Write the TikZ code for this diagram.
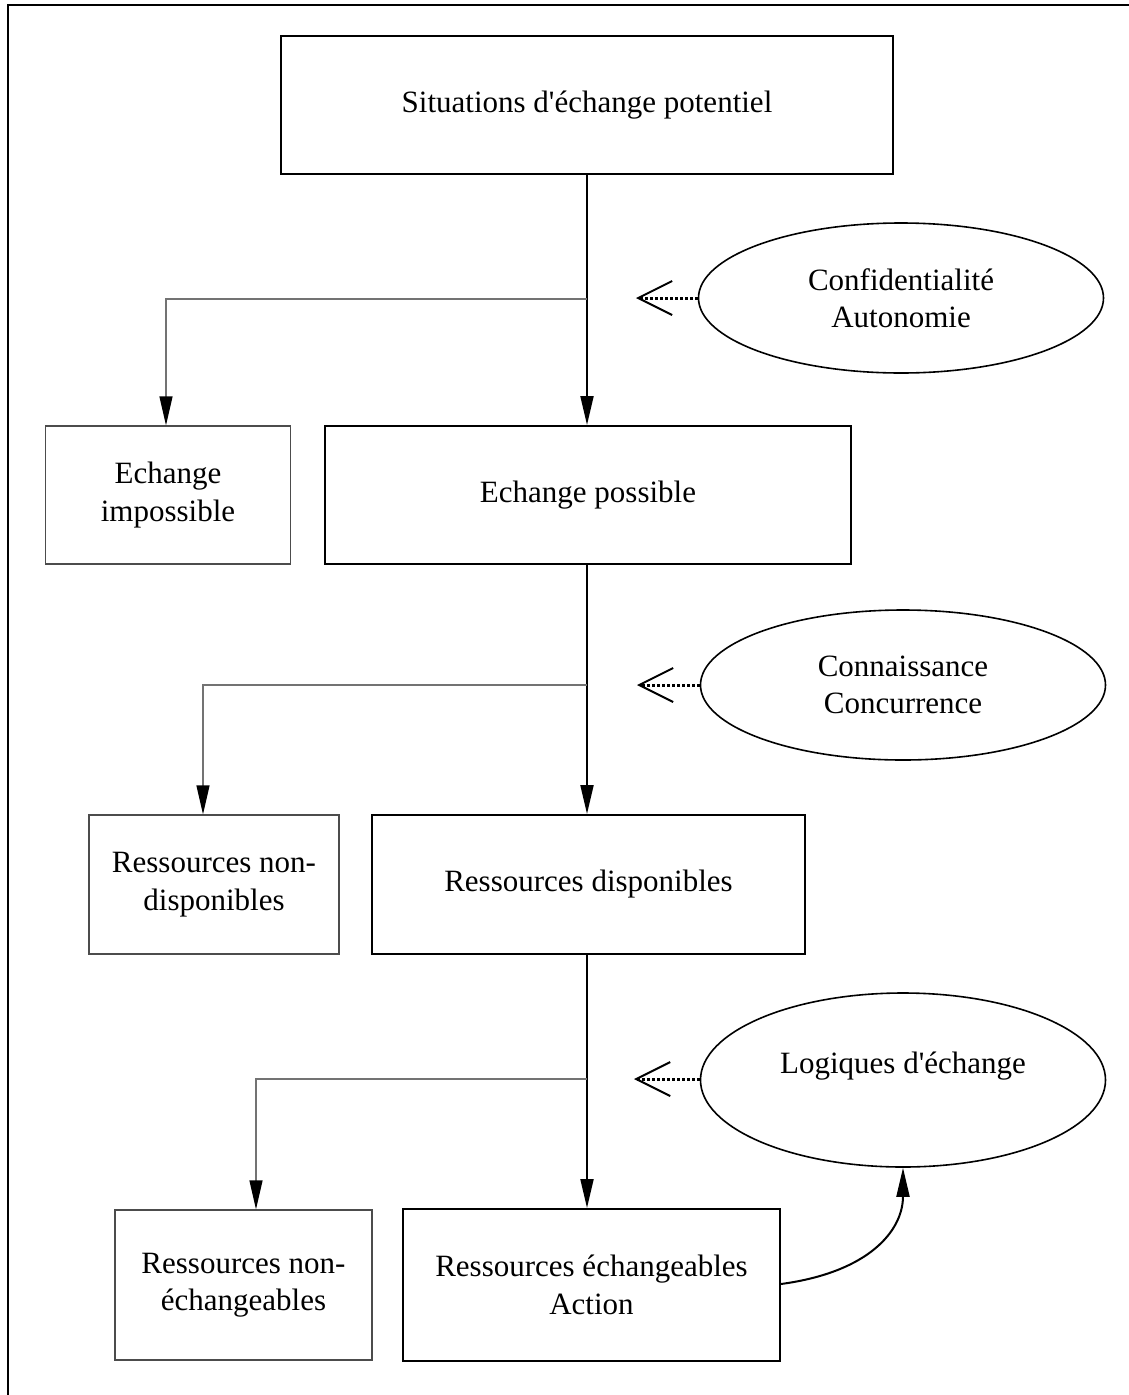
\documentclass[tikz,border=0pt]{standalone}
\usepackage{fontspec}
\setmainfont{Liberation Serif}[Ligatures=TeXOff]
\usetikzlibrary{arrows.meta,shapes.geometric}
\begin{document}
\begin{tikzpicture}[x=1pt,y=-1pt,
  txt/.style={align=center,inner sep=0pt,font=\fontsize{31}{37.5}\selectfont},
  mainbox/.style={txt,draw=black,line width=2pt,rectangle},
  sidebox/.style={txt,draw=black!70,line width=1.3pt,rectangle},
  oval/.style={txt,ellipse,draw=black,line width=1.6pt},
  flow/.style={line width=2pt,-{Triangle[length=29pt,width=13pt]}},
  branch/.style={draw=black!55,line width=1.3pt,-{Triangle[length=29pt,width=13pt,color=black]}},
  infl/.style={line width=3pt,dash pattern=on 3pt off 2pt,-{Straight Barb[length=34pt,width=34pt,line width=2pt]}}
]
\useasboundingbox (0,0) rectangle (1128,1395);
\draw[line width=2.5pt] (8,5) rectangle (1150,1420);

% boxes
\node[mainbox,minimum width=612,minimum height=138] (top) at (587,105) {Situations d'échange potentiel};
\node[sidebox,minimum width=245,minimum height=138] (imp) at (168,495) {Echange\\impossible};
\node[mainbox,minimum width=526,minimum height=138] (pos) at (588,495) {Echange possible};
\node[sidebox,minimum width=250,minimum height=139] (nd) at (214,884.5) {Ressources non-\\disponibles};
\node[mainbox,minimum width=433,minimum height=139] (dis) at (588.5,884.5) {Ressources disponibles};
\node[sidebox,minimum width=257,minimum height=150] (ne) at (243.5,1285) {Ressources non-\\échangeables};
\node[mainbox,minimum width=377,minimum height=152] (ech) at (591.5,1285) {Ressources échangeables\\Action};

% ellipses
\node[oval,minimum width=405,minimum height=150] (e1) at (901,298) {Confidentialité\\Autonomie};
\node[oval,minimum width=405,minimum height=150] (e2) at (903,685) {Connaissance\\Concurrence};
\node[oval,minimum width=405,minimum height=174] (e3) at (903,1080) {};
\node[txt] (e3t) at (903,1066) {Logiques d'échange};

% junctions
\coordinate (j1) at (587,299);
\coordinate (j2) at (587,685);
\coordinate (j3) at (587,1079);
\coordinate (d1) at (636,298);
\coordinate (d2) at (637,685);
\coordinate (d3) at (634,1079);

% main flow
\draw[flow] (top.south -| j1) -- (pos.north -| j1);
\draw[flow] (pos.south -| j2) -- (dis.north -| j2);
\draw[flow] (dis.south -| j3) -- (ech.north -| j3);

% branches
\draw[branch] (j1) -| (imp.north -| 166,0);
\draw[branch] (j2) -| (nd.north -| 203,0);
\draw[branch] (j3) -| (ne.north -| 256,0);

% influences
\draw[infl] (e1.west) -- (d1);
\draw[infl] (e2.west) -- (d2);
\draw[infl] (e3.west |- d3) -- (d3);

% feedback
\coordinate (fb) at (ech.east |- 0,1284);
\draw[line width=2pt,-{Triangle[length=29pt,width=13pt]}] (fb) .. controls (870,1272) and (903,1230) .. (e3.south);
\end{tikzpicture}
\end{document}
